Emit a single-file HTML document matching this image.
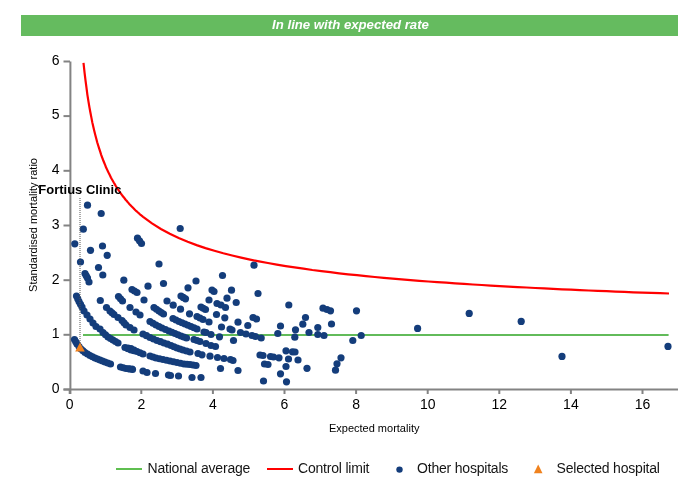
<!DOCTYPE html>
<html><head><meta charset="utf-8"><style>
html,body{margin:0;padding:0;background:#fff;width:700px;height:500px;overflow:hidden}
svg{display:block;font-family:"Liberation Sans",sans-serif;will-change:transform}
</style></head><body>
<svg width="700" height="500" viewBox="0 0 700 500">
<rect x="21" y="15" width="657" height="21" fill="#65bb5f"/>
<text x="350.5" y="28.6" text-anchor="middle" font-size="13.2" font-weight="bold" font-style="italic" fill="#ffffff">In line with expected rate</text>
<line x1="70.4" y1="61.5" x2="70.4" y2="394" stroke="#838383" stroke-width="2"/>
<line x1="63.5" y1="389.5" x2="678" y2="389.5" stroke="#838383" stroke-width="2"/>
<line x1="63.5" y1="389.5" x2="70" y2="389.5" stroke="#838383" stroke-width="2"/>
<text x="59.5" y="392.8" text-anchor="end" font-size="14" fill="#000">0</text>
<line x1="63.5" y1="334.8" x2="70" y2="334.8" stroke="#838383" stroke-width="2"/>
<text x="59.5" y="338.1" text-anchor="end" font-size="14" fill="#000">1</text>
<line x1="63.5" y1="280.2" x2="70" y2="280.2" stroke="#838383" stroke-width="2"/>
<text x="59.5" y="283.5" text-anchor="end" font-size="14" fill="#000">2</text>
<line x1="63.5" y1="225.5" x2="70" y2="225.5" stroke="#838383" stroke-width="2"/>
<text x="59.5" y="228.8" text-anchor="end" font-size="14" fill="#000">3</text>
<line x1="63.5" y1="170.8" x2="70" y2="170.8" stroke="#838383" stroke-width="2"/>
<text x="59.5" y="174.1" text-anchor="end" font-size="14" fill="#000">4</text>
<line x1="63.5" y1="116.1" x2="70" y2="116.1" stroke="#838383" stroke-width="2"/>
<text x="59.5" y="119.4" text-anchor="end" font-size="14" fill="#000">5</text>
<line x1="63.5" y1="61.5" x2="70" y2="61.5" stroke="#838383" stroke-width="2"/>
<text x="59.5" y="64.8" text-anchor="end" font-size="14" fill="#000">6</text>
<line x1="69.7" y1="389" x2="69.7" y2="394" stroke="#838383" stroke-width="2"/>
<text x="69.7" y="409" text-anchor="middle" font-size="14" fill="#000">0</text>
<line x1="141.3" y1="389" x2="141.3" y2="394" stroke="#838383" stroke-width="2"/>
<text x="141.3" y="409" text-anchor="middle" font-size="14" fill="#000">2</text>
<line x1="212.9" y1="389" x2="212.9" y2="394" stroke="#838383" stroke-width="2"/>
<text x="212.9" y="409" text-anchor="middle" font-size="14" fill="#000">4</text>
<line x1="284.5" y1="389" x2="284.5" y2="394" stroke="#838383" stroke-width="2"/>
<text x="284.5" y="409" text-anchor="middle" font-size="14" fill="#000">6</text>
<line x1="356.1" y1="389" x2="356.1" y2="394" stroke="#838383" stroke-width="2"/>
<text x="356.1" y="409" text-anchor="middle" font-size="14" fill="#000">8</text>
<line x1="427.7" y1="389" x2="427.7" y2="394" stroke="#838383" stroke-width="2"/>
<text x="427.7" y="409" text-anchor="middle" font-size="14" fill="#000">10</text>
<line x1="499.3" y1="389" x2="499.3" y2="394" stroke="#838383" stroke-width="2"/>
<text x="499.3" y="409" text-anchor="middle" font-size="14" fill="#000">12</text>
<line x1="570.9" y1="389" x2="570.9" y2="394" stroke="#838383" stroke-width="2"/>
<text x="570.9" y="409" text-anchor="middle" font-size="14" fill="#000">14</text>
<line x1="642.5" y1="389" x2="642.5" y2="394" stroke="#838383" stroke-width="2"/>
<text x="642.5" y="409" text-anchor="middle" font-size="14" fill="#000">16</text>
<text x="374.2" y="432" text-anchor="middle" font-size="11" fill="#000">Expected mortality</text>
<text transform="translate(37.1,225) rotate(-90)" x="0" y="0" text-anchor="middle" font-size="11" fill="#000">Standardised mortality ratio</text>
<line x1="83" y1="335" x2="668.6" y2="335" stroke="#62bb5a" stroke-width="2"/>
<circle cx="87.5" cy="205.2" r="3.6" fill="#143d7b"/>
<circle cx="101.2" cy="213.5" r="3.6" fill="#143d7b"/>
<circle cx="83.3" cy="229.2" r="3.6" fill="#143d7b"/>
<circle cx="180.2" cy="228.5" r="3.6" fill="#143d7b"/>
<circle cx="74.8" cy="243.8" r="3.6" fill="#143d7b"/>
<circle cx="90.5" cy="250.3" r="3.6" fill="#143d7b"/>
<circle cx="102.5" cy="246" r="3.6" fill="#143d7b"/>
<circle cx="107.2" cy="255.3" r="3.6" fill="#143d7b"/>
<circle cx="80.5" cy="262" r="3.6" fill="#143d7b"/>
<circle cx="98.5" cy="267.5" r="3.6" fill="#143d7b"/>
<circle cx="102.8" cy="275" r="3.6" fill="#143d7b"/>
<circle cx="123.8" cy="280.2" r="3.6" fill="#143d7b"/>
<circle cx="85" cy="273.5" r="3.6" fill="#143d7b"/>
<circle cx="87.5" cy="278" r="3.6" fill="#143d7b"/>
<circle cx="89" cy="282" r="3.6" fill="#143d7b"/>
<circle cx="132" cy="289.5" r="3.6" fill="#143d7b"/>
<circle cx="76.5" cy="296" r="3.6" fill="#143d7b"/>
<circle cx="79" cy="301.5" r="3.6" fill="#143d7b"/>
<circle cx="82" cy="307" r="3.6" fill="#143d7b"/>
<circle cx="84" cy="311" r="3.6" fill="#143d7b"/>
<circle cx="87" cy="315" r="3.6" fill="#143d7b"/>
<circle cx="90" cy="319" r="3.6" fill="#143d7b"/>
<circle cx="93" cy="323" r="3.6" fill="#143d7b"/>
<circle cx="96" cy="326.5" r="3.6" fill="#143d7b"/>
<circle cx="100" cy="329" r="3.6" fill="#143d7b"/>
<circle cx="100.3" cy="300.5" r="3.6" fill="#143d7b"/>
<circle cx="118.5" cy="296.5" r="3.6" fill="#143d7b"/>
<circle cx="122.5" cy="301" r="3.6" fill="#143d7b"/>
<circle cx="106.5" cy="307.5" r="3.6" fill="#143d7b"/>
<circle cx="110" cy="311" r="3.6" fill="#143d7b"/>
<circle cx="114" cy="314.5" r="3.6" fill="#143d7b"/>
<circle cx="118" cy="317.5" r="3.6" fill="#143d7b"/>
<circle cx="122" cy="320.5" r="3.6" fill="#143d7b"/>
<circle cx="130" cy="307.5" r="3.6" fill="#143d7b"/>
<circle cx="126" cy="325" r="3.6" fill="#143d7b"/>
<circle cx="130" cy="327.5" r="3.6" fill="#143d7b"/>
<circle cx="134" cy="330" r="3.6" fill="#143d7b"/>
<circle cx="74.5" cy="339.5" r="3.6" fill="#143d7b"/>
<circle cx="77" cy="344" r="3.6" fill="#143d7b"/>
<circle cx="81" cy="349" r="3.6" fill="#143d7b"/>
<circle cx="85" cy="352.5" r="3.6" fill="#143d7b"/>
<circle cx="90" cy="355.5" r="3.6" fill="#143d7b"/>
<circle cx="95" cy="358" r="3.6" fill="#143d7b"/>
<circle cx="100" cy="360" r="3.6" fill="#143d7b"/>
<circle cx="105" cy="362" r="3.6" fill="#143d7b"/>
<circle cx="110.5" cy="364" r="3.6" fill="#143d7b"/>
<circle cx="120.5" cy="367" r="3.6" fill="#143d7b"/>
<circle cx="126" cy="368.5" r="3.6" fill="#143d7b"/>
<circle cx="132.5" cy="369.5" r="3.6" fill="#143d7b"/>
<circle cx="103" cy="332.5" r="3.6" fill="#143d7b"/>
<circle cx="108" cy="337" r="3.6" fill="#143d7b"/>
<circle cx="113" cy="340" r="3.6" fill="#143d7b"/>
<circle cx="118" cy="343" r="3.6" fill="#143d7b"/>
<circle cx="125" cy="347.5" r="3.6" fill="#143d7b"/>
<circle cx="131" cy="350" r="3.6" fill="#143d7b"/>
<circle cx="137.5" cy="238.2" r="3.6" fill="#143d7b"/>
<circle cx="141.5" cy="243.5" r="3.6" fill="#143d7b"/>
<circle cx="159" cy="264" r="3.6" fill="#143d7b"/>
<circle cx="196" cy="281" r="3.6" fill="#143d7b"/>
<circle cx="137" cy="292.5" r="3.6" fill="#143d7b"/>
<circle cx="148" cy="286.2" r="3.6" fill="#143d7b"/>
<circle cx="163.5" cy="283.5" r="3.6" fill="#143d7b"/>
<circle cx="188" cy="287.8" r="3.6" fill="#143d7b"/>
<circle cx="144" cy="300" r="3.6" fill="#143d7b"/>
<circle cx="167" cy="301" r="3.6" fill="#143d7b"/>
<circle cx="173.2" cy="305.2" r="3.6" fill="#143d7b"/>
<circle cx="180.5" cy="309.2" r="3.6" fill="#143d7b"/>
<circle cx="189.5" cy="313.8" r="3.6" fill="#143d7b"/>
<circle cx="181" cy="296" r="3.6" fill="#143d7b"/>
<circle cx="185.5" cy="298.8" r="3.6" fill="#143d7b"/>
<circle cx="136" cy="312" r="3.6" fill="#143d7b"/>
<circle cx="140" cy="315" r="3.6" fill="#143d7b"/>
<circle cx="154" cy="307.5" r="3.6" fill="#143d7b"/>
<circle cx="159" cy="311" r="3.6" fill="#143d7b"/>
<circle cx="163.5" cy="314" r="3.6" fill="#143d7b"/>
<circle cx="150" cy="321.5" r="3.6" fill="#143d7b"/>
<circle cx="156" cy="325" r="3.6" fill="#143d7b"/>
<circle cx="162" cy="328" r="3.6" fill="#143d7b"/>
<circle cx="169" cy="331" r="3.6" fill="#143d7b"/>
<circle cx="175" cy="333.5" r="3.6" fill="#143d7b"/>
<circle cx="181" cy="336" r="3.6" fill="#143d7b"/>
<circle cx="186.5" cy="338" r="3.6" fill="#143d7b"/>
<circle cx="173" cy="318.5" r="3.6" fill="#143d7b"/>
<circle cx="179" cy="321.5" r="3.6" fill="#143d7b"/>
<circle cx="185" cy="324" r="3.6" fill="#143d7b"/>
<circle cx="191" cy="326.5" r="3.6" fill="#143d7b"/>
<circle cx="197" cy="329" r="3.6" fill="#143d7b"/>
<circle cx="204" cy="332" r="3.6" fill="#143d7b"/>
<circle cx="201" cy="307" r="3.6" fill="#143d7b"/>
<circle cx="205.5" cy="309.5" r="3.6" fill="#143d7b"/>
<circle cx="197" cy="316.5" r="3.6" fill="#143d7b"/>
<circle cx="203" cy="319.5" r="3.6" fill="#143d7b"/>
<circle cx="209" cy="322" r="3.6" fill="#143d7b"/>
<circle cx="143" cy="334" r="3.6" fill="#143d7b"/>
<circle cx="150" cy="337.5" r="3.6" fill="#143d7b"/>
<circle cx="157" cy="340.5" r="3.6" fill="#143d7b"/>
<circle cx="164" cy="343" r="3.6" fill="#143d7b"/>
<circle cx="171" cy="345.5" r="3.6" fill="#143d7b"/>
<circle cx="177" cy="348" r="3.6" fill="#143d7b"/>
<circle cx="194" cy="339.5" r="3.6" fill="#143d7b"/>
<circle cx="200" cy="341.5" r="3.6" fill="#143d7b"/>
<circle cx="206" cy="343.5" r="3.6" fill="#143d7b"/>
<circle cx="183" cy="350" r="3.6" fill="#143d7b"/>
<circle cx="190" cy="352" r="3.6" fill="#143d7b"/>
<circle cx="198" cy="353.5" r="3.6" fill="#143d7b"/>
<circle cx="131" cy="348.5" r="3.6" fill="#143d7b"/>
<circle cx="137" cy="351.5" r="3.6" fill="#143d7b"/>
<circle cx="143" cy="354" r="3.6" fill="#143d7b"/>
<circle cx="150" cy="356" r="3.6" fill="#143d7b"/>
<circle cx="156" cy="358" r="3.6" fill="#143d7b"/>
<circle cx="163" cy="359.5" r="3.6" fill="#143d7b"/>
<circle cx="170" cy="361" r="3.6" fill="#143d7b"/>
<circle cx="177" cy="362.5" r="3.6" fill="#143d7b"/>
<circle cx="184" cy="364" r="3.6" fill="#143d7b"/>
<circle cx="190" cy="364.5" r="3.6" fill="#143d7b"/>
<circle cx="196" cy="365.5" r="3.6" fill="#143d7b"/>
<circle cx="132" cy="369" r="3.6" fill="#143d7b"/>
<circle cx="143" cy="371" r="3.6" fill="#143d7b"/>
<circle cx="147" cy="372.5" r="3.6" fill="#143d7b"/>
<circle cx="155.5" cy="373.5" r="3.6" fill="#143d7b"/>
<circle cx="168.5" cy="375" r="3.6" fill="#143d7b"/>
<circle cx="170.5" cy="375.5" r="3.6" fill="#143d7b"/>
<circle cx="178.5" cy="376" r="3.6" fill="#143d7b"/>
<circle cx="192" cy="377.5" r="3.6" fill="#143d7b"/>
<circle cx="254" cy="265.2" r="3.6" fill="#143d7b"/>
<circle cx="222.5" cy="275.5" r="3.6" fill="#143d7b"/>
<circle cx="212" cy="290" r="3.6" fill="#143d7b"/>
<circle cx="214" cy="291.5" r="3.6" fill="#143d7b"/>
<circle cx="231.5" cy="290.2" r="3.6" fill="#143d7b"/>
<circle cx="258" cy="293.5" r="3.6" fill="#143d7b"/>
<circle cx="209" cy="300" r="3.6" fill="#143d7b"/>
<circle cx="227" cy="298.2" r="3.6" fill="#143d7b"/>
<circle cx="236.2" cy="302.5" r="3.6" fill="#143d7b"/>
<circle cx="217" cy="303.5" r="3.6" fill="#143d7b"/>
<circle cx="221" cy="305" r="3.6" fill="#143d7b"/>
<circle cx="225.5" cy="307.5" r="3.6" fill="#143d7b"/>
<circle cx="216.5" cy="314.5" r="3.6" fill="#143d7b"/>
<circle cx="224.8" cy="317.8" r="3.6" fill="#143d7b"/>
<circle cx="253" cy="317.5" r="3.6" fill="#143d7b"/>
<circle cx="256.5" cy="319" r="3.6" fill="#143d7b"/>
<circle cx="238" cy="322.2" r="3.6" fill="#143d7b"/>
<circle cx="247.8" cy="325.5" r="3.6" fill="#143d7b"/>
<circle cx="221.5" cy="327" r="3.6" fill="#143d7b"/>
<circle cx="230" cy="329" r="3.6" fill="#143d7b"/>
<circle cx="232" cy="330" r="3.6" fill="#143d7b"/>
<circle cx="206" cy="332.5" r="3.6" fill="#143d7b"/>
<circle cx="211" cy="334.5" r="3.6" fill="#143d7b"/>
<circle cx="219.5" cy="336.8" r="3.6" fill="#143d7b"/>
<circle cx="240.5" cy="332.5" r="3.6" fill="#143d7b"/>
<circle cx="246" cy="334" r="3.6" fill="#143d7b"/>
<circle cx="252" cy="335.5" r="3.6" fill="#143d7b"/>
<circle cx="255.5" cy="336.5" r="3.6" fill="#143d7b"/>
<circle cx="261.2" cy="338" r="3.6" fill="#143d7b"/>
<circle cx="233.5" cy="340.5" r="3.6" fill="#143d7b"/>
<circle cx="211" cy="345.5" r="3.6" fill="#143d7b"/>
<circle cx="215.5" cy="346.5" r="3.6" fill="#143d7b"/>
<circle cx="202" cy="354.8" r="3.6" fill="#143d7b"/>
<circle cx="210" cy="356.2" r="3.6" fill="#143d7b"/>
<circle cx="217.5" cy="357.5" r="3.6" fill="#143d7b"/>
<circle cx="224" cy="358.5" r="3.6" fill="#143d7b"/>
<circle cx="230.5" cy="359.5" r="3.6" fill="#143d7b"/>
<circle cx="233" cy="360.5" r="3.6" fill="#143d7b"/>
<circle cx="220.5" cy="368.5" r="3.6" fill="#143d7b"/>
<circle cx="238" cy="370.5" r="3.6" fill="#143d7b"/>
<circle cx="201" cy="377.5" r="3.6" fill="#143d7b"/>
<circle cx="260" cy="355" r="3.6" fill="#143d7b"/>
<circle cx="263" cy="355.5" r="3.6" fill="#143d7b"/>
<circle cx="263.5" cy="381" r="3.6" fill="#143d7b"/>
<circle cx="288.8" cy="305" r="3.6" fill="#143d7b"/>
<circle cx="323" cy="308.2" r="3.6" fill="#143d7b"/>
<circle cx="327" cy="309.5" r="3.6" fill="#143d7b"/>
<circle cx="330.5" cy="310.8" r="3.6" fill="#143d7b"/>
<circle cx="305.5" cy="317.5" r="3.6" fill="#143d7b"/>
<circle cx="302.8" cy="324.2" r="3.6" fill="#143d7b"/>
<circle cx="280.5" cy="326" r="3.6" fill="#143d7b"/>
<circle cx="295.5" cy="329.8" r="3.6" fill="#143d7b"/>
<circle cx="277.8" cy="333.5" r="3.6" fill="#143d7b"/>
<circle cx="309" cy="332.5" r="3.6" fill="#143d7b"/>
<circle cx="317.8" cy="327.5" r="3.6" fill="#143d7b"/>
<circle cx="317.8" cy="334.5" r="3.6" fill="#143d7b"/>
<circle cx="324" cy="335.5" r="3.6" fill="#143d7b"/>
<circle cx="331.5" cy="324" r="3.6" fill="#143d7b"/>
<circle cx="294.8" cy="337.2" r="3.6" fill="#143d7b"/>
<circle cx="270.5" cy="356.5" r="3.6" fill="#143d7b"/>
<circle cx="273.5" cy="357" r="3.6" fill="#143d7b"/>
<circle cx="279" cy="357.8" r="3.6" fill="#143d7b"/>
<circle cx="286" cy="350.8" r="3.6" fill="#143d7b"/>
<circle cx="292.5" cy="351.8" r="3.6" fill="#143d7b"/>
<circle cx="295" cy="352" r="3.6" fill="#143d7b"/>
<circle cx="288.5" cy="359" r="3.6" fill="#143d7b"/>
<circle cx="298" cy="360" r="3.6" fill="#143d7b"/>
<circle cx="264.5" cy="364" r="3.6" fill="#143d7b"/>
<circle cx="268" cy="364.5" r="3.6" fill="#143d7b"/>
<circle cx="286" cy="366.5" r="3.6" fill="#143d7b"/>
<circle cx="307" cy="368.3" r="3.6" fill="#143d7b"/>
<circle cx="280.5" cy="373.8" r="3.6" fill="#143d7b"/>
<circle cx="286.5" cy="381.8" r="3.6" fill="#143d7b"/>
<circle cx="356.5" cy="310.8" r="3.6" fill="#143d7b"/>
<circle cx="361.2" cy="335.5" r="3.6" fill="#143d7b"/>
<circle cx="352.8" cy="340.5" r="3.6" fill="#143d7b"/>
<circle cx="341" cy="357.8" r="3.6" fill="#143d7b"/>
<circle cx="337" cy="363.8" r="3.6" fill="#143d7b"/>
<circle cx="335.5" cy="370.2" r="3.6" fill="#143d7b"/>
<circle cx="417.6" cy="328.4" r="3.6" fill="#143d7b"/>
<circle cx="469.2" cy="313.4" r="3.6" fill="#143d7b"/>
<circle cx="521.2" cy="321.4" r="3.6" fill="#143d7b"/>
<circle cx="562" cy="356.4" r="3.6" fill="#143d7b"/>
<circle cx="668" cy="346.4" r="3.6" fill="#143d7b"/>
<circle cx="165.5" cy="329.5" r="3.6" fill="#143d7b"/>
<circle cx="146.5" cy="335.7" r="3.6" fill="#143d7b"/>
<circle cx="153.5" cy="339" r="3.6" fill="#143d7b"/>
<circle cx="160.5" cy="341.7" r="3.6" fill="#143d7b"/>
<circle cx="167.5" cy="344.2" r="3.6" fill="#143d7b"/>
<circle cx="186.5" cy="351" r="3.6" fill="#143d7b"/>
<circle cx="86.25" cy="275.75" r="3.6" fill="#143d7b"/>
<circle cx="134.5" cy="291.0" r="3.6" fill="#143d7b"/>
<circle cx="77.75" cy="298.75" r="3.6" fill="#143d7b"/>
<circle cx="80.5" cy="304.25" r="3.6" fill="#143d7b"/>
<circle cx="120.5" cy="298.75" r="3.6" fill="#143d7b"/>
<circle cx="112.0" cy="312.75" r="3.6" fill="#143d7b"/>
<circle cx="124.0" cy="322.75" r="3.6" fill="#143d7b"/>
<circle cx="75.75" cy="341.75" r="3.6" fill="#143d7b"/>
<circle cx="79.0" cy="346.5" r="3.6" fill="#143d7b"/>
<circle cx="83.0" cy="350.75" r="3.6" fill="#143d7b"/>
<circle cx="87.5" cy="354.0" r="3.6" fill="#143d7b"/>
<circle cx="92.5" cy="356.75" r="3.6" fill="#143d7b"/>
<circle cx="97.5" cy="359.0" r="3.6" fill="#143d7b"/>
<circle cx="102.5" cy="361.0" r="3.6" fill="#143d7b"/>
<circle cx="107.75" cy="363.0" r="3.6" fill="#143d7b"/>
<circle cx="123.25" cy="367.75" r="3.6" fill="#143d7b"/>
<circle cx="129.25" cy="369.0" r="3.6" fill="#143d7b"/>
<circle cx="129.0" cy="368.75" r="3.6" fill="#143d7b"/>
<circle cx="105.5" cy="334.75" r="3.6" fill="#143d7b"/>
<circle cx="110.5" cy="338.5" r="3.6" fill="#143d7b"/>
<circle cx="115.5" cy="341.5" r="3.6" fill="#143d7b"/>
<circle cx="128.0" cy="348.75" r="3.6" fill="#143d7b"/>
<circle cx="128.0" cy="348.0" r="3.6" fill="#143d7b"/>
<circle cx="134.0" cy="350.75" r="3.6" fill="#143d7b"/>
<circle cx="139.5" cy="240.85" r="3.6" fill="#143d7b"/>
<circle cx="183.25" cy="297.4" r="3.6" fill="#143d7b"/>
<circle cx="156.5" cy="309.25" r="3.6" fill="#143d7b"/>
<circle cx="161.25" cy="312.5" r="3.6" fill="#143d7b"/>
<circle cx="153.0" cy="323.25" r="3.6" fill="#143d7b"/>
<circle cx="159.0" cy="326.5" r="3.6" fill="#143d7b"/>
<circle cx="172.0" cy="332.25" r="3.6" fill="#143d7b"/>
<circle cx="178.0" cy="334.75" r="3.6" fill="#143d7b"/>
<circle cx="183.75" cy="337.0" r="3.6" fill="#143d7b"/>
<circle cx="176.0" cy="320.0" r="3.6" fill="#143d7b"/>
<circle cx="182.0" cy="322.75" r="3.6" fill="#143d7b"/>
<circle cx="188.0" cy="325.25" r="3.6" fill="#143d7b"/>
<circle cx="194.0" cy="327.75" r="3.6" fill="#143d7b"/>
<circle cx="203.25" cy="308.25" r="3.6" fill="#143d7b"/>
<circle cx="200.0" cy="318.0" r="3.6" fill="#143d7b"/>
<circle cx="174.0" cy="346.75" r="3.6" fill="#143d7b"/>
<circle cx="180.0" cy="349.0" r="3.6" fill="#143d7b"/>
<circle cx="197.0" cy="340.5" r="3.6" fill="#143d7b"/>
<circle cx="134.0" cy="350.0" r="3.6" fill="#143d7b"/>
<circle cx="140.0" cy="352.75" r="3.6" fill="#143d7b"/>
<circle cx="153.0" cy="357.0" r="3.6" fill="#143d7b"/>
<circle cx="159.5" cy="358.75" r="3.6" fill="#143d7b"/>
<circle cx="166.5" cy="360.25" r="3.6" fill="#143d7b"/>
<circle cx="173.5" cy="361.75" r="3.6" fill="#143d7b"/>
<circle cx="180.5" cy="363.25" r="3.6" fill="#143d7b"/>
<circle cx="187.0" cy="364.25" r="3.6" fill="#143d7b"/>
<circle cx="193.0" cy="365.0" r="3.6" fill="#143d7b"/>
<polyline points="83.5,62.9 84.5,72.1 85.5,80.4 86.5,87.9 87.4,94.8 88.4,101.2 89.4,107.1 90.4,112.5 91.4,117.6 92.3,122.4 93.3,126.8 94.3,131.0 95.3,134.9 96.3,138.7 97.2,142.2 98.2,145.5 99.2,148.7 100.2,151.7 101.1,154.6 102.1,157.3 103.1,160.0 104.1,162.5 105.1,164.9 106.0,167.2 107.0,169.4 108.0,171.5 109.0,173.6 110.0,175.5 110.9,177.4 111.9,179.3 112.9,181.0 113.9,182.8 114.9,184.4 115.8,186.0 116.8,187.6 117.8,189.1 118.8,190.5 119.8,192.0 120.7,193.3 121.7,194.7 122.7,196.0 123.7,197.2 124.7,198.5 125.6,199.7 126.6,200.8 127.6,202.0 128.6,203.1 129.5,204.2 130.5,205.2 131.5,206.3 132.5,207.3 133.5,208.3 134.4,209.2 135.4,210.2 136.4,211.1 137.4,212.0 138.4,212.8 139.3,213.7 140.3,214.6 141.3,215.4 143.1,216.8 152.0,223.4 160.9,229.0 169.8,233.8 178.7,238.0 187.7,241.8 196.6,245.1 205.5,248.1 214.4,250.8 223.3,253.3 232.2,255.5 241.1,257.6 250.1,259.6 259.0,261.4 267.9,263.0 276.8,264.6 285.7,266.1 294.6,267.4 303.5,268.7 312.4,270.0 321.4,271.1 330.3,272.2 339.2,273.3 348.1,274.3 357.0,275.2 365.9,276.1 374.8,277.0 383.8,277.8 392.7,278.6 401.6,279.3 410.5,280.1 419.4,280.8 428.3,281.5 437.2,282.1 446.2,282.7 455.1,283.3 464.0,283.9 472.9,284.5 481.8,285.0 490.7,285.6 499.6,286.1 508.5,286.6 517.5,287.1 526.4,287.5 535.3,288.0 544.2,288.4 553.1,288.9 562.0,289.3 570.9,289.7 579.9,290.1 588.8,290.5 597.7,290.8 606.6,291.2 615.5,291.6 624.4,291.9 633.3,292.3 642.3,292.6 651.2,292.9 660.1,293.2 669.0,293.5" fill="none" stroke="#ff0000" stroke-width="2.2"/>
<line x1="80" y1="198" x2="80" y2="343" stroke="#555" stroke-width="1" stroke-dasharray="1,1"/>
<polygon points="80,342.4 75.2,351.6 84.8,351.6" fill="#f0821e"/>
<text x="38.3" y="193.6" font-size="13" font-weight="bold" fill="#000">Fortius Clinic</text>
<line x1="116" y1="469" x2="142" y2="469" stroke="#5fbf50" stroke-width="2"/>
<text x="147.5" y="473" font-size="14" letter-spacing="-0.2" fill="#151515">National average</text>
<line x1="267" y1="469" x2="293" y2="469" stroke="#ff0000" stroke-width="2"/>
<text x="298" y="473" font-size="14" letter-spacing="-0.2" fill="#151515">Control limit</text>
<circle cx="399.5" cy="469.6" r="3.2" fill="#143d7b"/>
<text x="417" y="473" font-size="14" letter-spacing="-0.2" fill="#151515">Other hospitals</text>
<polygon points="538.2,464.6 533.9,473.2 542.5,473.2" fill="#f0821e"/>
<text x="556.5" y="473" font-size="14" letter-spacing="-0.2" fill="#151515">Selected hospital</text>
</svg></body></html>
